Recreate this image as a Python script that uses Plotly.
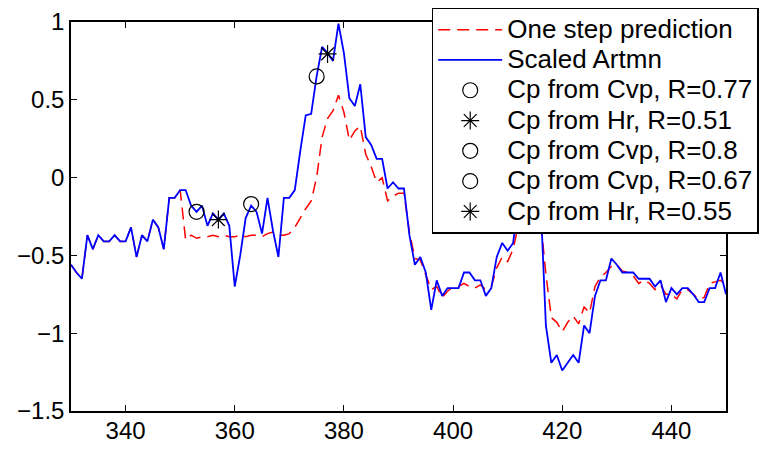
import plotly.graph_objects as go

# ---- data ----
x_vals = list(range(330, 451))

scaled_artmn = [
    -0.56, -0.61, -0.65, -0.37, -0.46, -0.37, -0.41, -0.41, -0.37, -0.41,  # 330-339
    -0.41, -0.32, -0.51, -0.37, -0.41, -0.27, -0.32, -0.46, -0.13, -0.13,  # 340-349
    -0.08, -0.08, -0.18, -0.22, -0.18, -0.31, -0.23, -0.27, -0.23, -0.31,  # 350-359
    -0.70, -0.50, -0.26, -0.18, -0.22, -0.36, -0.13, -0.34, -0.51, -0.13,  # 360-369
    -0.13, -0.08, 0.17, 0.40, 0.41, 0.65, 0.84, 0.80, 0.75, 0.99,          # 370-379
    0.80, 0.51, 0.46, 0.60, 0.26, 0.21, 0.12, 0.12, -0.07, -0.03,          # 380-389
    -0.07, -0.07, -0.37, -0.56, -0.51, -0.61, -0.85, -0.66, -0.76, -0.71,  # 390-399
    -0.71, -0.71, -0.61, -0.61, -0.66, -0.66, -0.76, -0.71, -0.51, -0.42,  # 400-409
    -0.47, -0.42, -0.14, 0.10, 0.20, 0.05, -0.12, -0.95, -1.19, -1.14,     # 410-419
    -1.24, -1.19, -1.14, -1.19, -0.95, -1.00, -0.76, -0.66, -0.66, -0.52,  # 420-429
    -0.56, -0.61, -0.61, -0.61, -0.65, -0.65, -0.65, -0.70, -0.66, -0.80,  # 430-439
    -0.71, -0.75, -0.71, -0.71, -0.75, -0.80, -0.80, -0.71, -0.71, -0.61,  # 440-449
    -0.75,                                                                 # 450
]

one_step_prediction = [
    -0.56, -0.61, -0.65, -0.37, -0.46, -0.37, -0.41, -0.41, -0.37, -0.41,  # 330-339
    -0.41, -0.32, -0.51, -0.37, -0.41, -0.27, -0.32, -0.46, -0.13, -0.13,  # 340-349
    -0.08, -0.40, -0.37, -0.39, -0.38, -0.38, -0.37, -0.38, -0.37, -0.38,  # 350-359
    -0.38, -0.37, -0.38, -0.37, -0.37, -0.38, -0.36, -0.35, -0.37, -0.37,  # 360-369
    -0.36, -0.32, -0.26, -0.20, -0.15, 0.00, 0.26, 0.38, 0.43, 0.53,       # 370-379
    0.42, 0.24, 0.30, 0.33, 0.15, 0.07, -0.03, 0.00, -0.15, -0.12,         # 380-389
    -0.10, -0.10, -0.35, -0.52, -0.53, -0.62, -0.72, -0.70, -0.77, -0.73,  # 390-399
    -0.70, -0.70, -0.68, -0.70, -0.71, -0.69, -0.72, -0.70, -0.58, -0.51,  # 400-409
    -0.54, -0.46, -0.30, -0.05, 0.10, 0.10, -0.25, -0.62, -0.90, -0.93,    # 410-419
    -0.99, -0.93, -0.89, -0.94, -0.83, -0.87, -0.70, -0.64, -0.61, -0.57,  # 420-429
    -0.56, -0.60, -0.61, -0.63, -0.68, -0.66, -0.68, -0.72, -0.69, -0.75,  # 430-439
    -0.75, -0.78, -0.72, -0.72, -0.75, -0.78, -0.77, -0.68, -0.67, -0.66,  # 440-449
    -0.69,                                                                 # 450
]

# change-point markers
cp_labels = ["Cp from Cvp, R=0.77", "Cp from Hr, R=0.51", "Cp from Cvp, R=0.8",
             "Cp from Cvp, R=0.67", "Cp from Hr, R=0.55"]
cp_symbols = ["circle-open", "asterisk-open", "circle-open", "circle-open", "asterisk-open"]
cp_x = [353, 357, 363, 375, 377]
cp_y = [-0.22, -0.27, -0.17, 0.65, 0.795]

x_ticks = [340, 360, 380, 400, 420, 440]
y_ticks = [-1.5, -1, -0.5, 0, 0.5, 1]
y_tick_text = ["\u22121.5", "\u22121", "\u22120.5", "0", "0.5", "1"]

FONT = "Liberation Sans, Arial, Helvetica, sans-serif"


def big(label):
    return '<span style="font-size:26px">' + label + "</span>"


fig = go.Figure()
fig.add_trace(go.Scatter(
    x=x_vals, y=one_step_prediction, mode="lines", name=big("One step prediction"),
    line=dict(color="#ff0000", width=1.5, dash="12px,7px"),
))
fig.add_trace(go.Scatter(
    x=x_vals, y=scaled_artmn, mode="lines", name=big("Scaled Artmn"),
    line=dict(color="#0000ff", width=1.8),
))
for lab, sym, cx, cy in zip(cp_labels, cp_symbols, cp_x, cp_y):
    fig.add_trace(go.Scatter(
        x=[cx], y=[cy], mode="markers", name=big(lab),
        marker=dict(symbol=sym, size=15, color="black",
                    line=dict(color="black", width=1.2)),
    ))

axis_common = dict(
    showline=True, linecolor="black", linewidth=1.5, mirror="allticks",
    ticks="inside", ticklen=6, tickcolor="black", tickwidth=1,
    showgrid=False, zeroline=False,
    tickfont=dict(family=FONT, size=24, color="black"),
)

fig.update_layout(
    width=763, height=452,
    margin=dict(l=71, r=37, t=22, b=41, autoexpand=False),
    paper_bgcolor="white", plot_bgcolor="white",
    font=dict(family=FONT, size=24, color="black"),
    xaxis=dict(range=[330, 450], tickvals=x_ticks, ticklabelstandoff=-3, **axis_common),
    yaxis=dict(range=[-1.5, 1], tickvals=y_ticks, ticktext=y_tick_text, **axis_common),
    legend=dict(
        x=0.5507, y=1.036, xanchor="left", yanchor="top",
        bgcolor="white", bordercolor="black", borderwidth=1.5,
        font=dict(family=FONT, size=21, color="black"),
        itemwidth=64, tracegroupgap=0, maxheight=400,
    ),
    showlegend=True,
)

fig.write_html("out.html")
